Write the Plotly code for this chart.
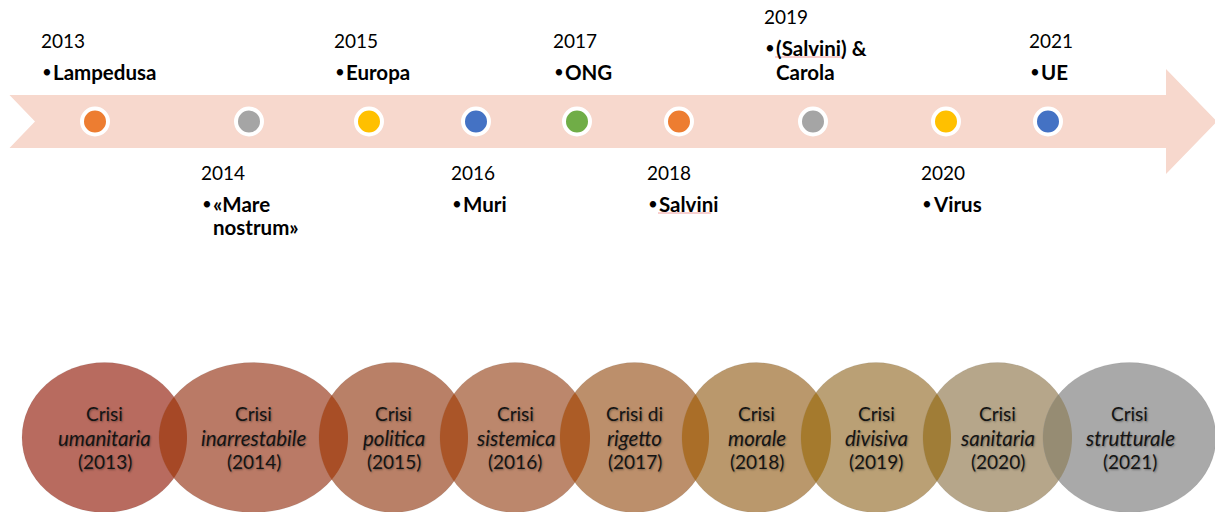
import numpy as np
import plotly.graph_objects as go

# ---------------- data ----------------
years = [2013, 2014, 2015, 2016, 2017, 2018, 2019, 2020, 2021]
events = ["Lampedusa", "«Mare\nnostrum»", "Europa", "Muri", "ONG",
          "Salvini", "(Salvini) &\nCarola", "Virus", "UE"]
dot_colors = ["#ED7D31", "#A5A5A5", "#FFC000", "#4472C4", "#70AD47",
              "#ED7D31", "#A5A5A5", "#FFC000", "#4472C4"]
crisis_prefix = ["Crisi", "Crisi", "Crisi", "Crisi", "Crisi di",
                 "Crisi", "Crisi", "Crisi", "Crisi"]
crisis_words = ["umanitaria", "inarrestabile", "politica", "sistemica", "rigetto",
                "morale", "divisiva", "sanitaria", "strutturale"]
underlined_words = ["Salvini", "(Salvini)"]

# ---------------- layout / style ----------------
W, H = 1215, 512
FONT = "Lato"
slot_x = [95, 249, 369, 476, 577, 679, 813, 946, 1048]      # timeline slots
label_x = [40, 200, 333, 450, 552, 646, 763, 920, 1028]     # text columns
band_color = "#F7D8CD"
ell_x0 = [22, 159, 319, 440, 560, 682, 801, 923, 1043]
ell_x1 = [187, 348, 468, 590, 709, 831, 951, 1072, 1216]
ell_y0, ell_y1 = 362.5, 512.5
circle_colors = ["#B86B5F", "#BA7A66", "#B98067", "#BC876C", "#BC8F6B",
                 "#BA986C", "#BAA075", "#B6A68A", "#A9A9A9"]
overlap_colors = ["#A64826", "#A84E26", "#AA5528", "#AC5C26", "#AA6E28",
                  "#A57A2D", "#A07D37", "#968C73"]

fig = go.Figure()
shapes = []
annotations = []

# arrow band
band_top, band_bot, band_mid = 95, 148, 121.5
head_x, head_top, head_bot, tip_x = 1166, 69, 174, 1217
band_path = (f"M 9.5,{band_top} L {head_x},{band_top} L {head_x},{head_top} "
             f"L {tip_x},{band_mid} L {head_x},{head_bot} L {head_x},{band_bot} "
             f"L 9.5,{band_bot} L 35,{band_mid} Z")
shapes.append(dict(type="path", path=band_path, fillcolor=band_color,
                   line=dict(width=0), layer="below", xref="x", yref="y"))

# bottom ellipses
for i in range(len(years)):
    shapes.append(dict(type="circle", xref="x", yref="y",
                       x0=ell_x0[i], x1=ell_x1[i], y0=ell_y0, y1=ell_y1,
                       fillcolor=circle_colors[i],
                       line=dict(color="rgba(0,0,0,0.06)", width=1),
                       layer="below"))

# overlap lenses between neighbouring ellipses
cy = (ell_y0 + ell_y1) / 2
b = (ell_y1 - ell_y0) / 2
for i in range(len(years) - 1):
    ca, aa = (ell_x0[i] + ell_x1[i]) / 2, (ell_x1[i] - ell_x0[i]) / 2
    cb, ab = (ell_x0[i + 1] + ell_x1[i + 1]) / 2, (ell_x1[i + 1] - ell_x0[i + 1]) / 2
    ta = np.linspace(-np.pi / 2, np.pi / 2, 361)
    xa, ya = ca + aa * np.cos(ta), cy + b * np.sin(ta)
    ina = ((xa - cb) / ab) ** 2 + ((ya - cy) / b) ** 2 <= 1
    tb = np.linspace(np.pi / 2, 3 * np.pi / 2, 361)
    xb, yb = cb + ab * np.cos(tb), cy + b * np.sin(tb)
    inb = ((xb - ca) / aa) ** 2 + ((yb - cy) / b) ** 2 <= 1
    px = np.concatenate([xa[ina], xb[inb]])
    py = np.concatenate([ya[ina], yb[inb]])
    path = "M " + " L ".join(f"{x:.2f},{y:.2f}" for x, y in zip(px, py)) + " Z"
    shapes.append(dict(type="path", path=path, xref="x", yref="y",
                       fillcolor=overlap_colors[i], line=dict(width=0),
                       layer="below"))

# crisis text in ellipses
shadow = "1px 1px 2px rgba(0,0,0,0.35)"
for i in range(len(years)):
    cx = (ell_x0[i] + ell_x1[i]) / 2
    lines = [(crisis_prefix[i], "normal", 19, 413),
             (crisis_words[i], "italic", 20.5, 437.5),
             (f"({years[i]})", "normal", 19, 461)]
    for txt, style, fs, yy in lines:
        annotations.append(dict(x=cx, y=yy, xref="x", yref="y", text=txt,
                                showarrow=False, xanchor="center", yanchor="middle",
                                font=dict(family=FONT, size=fs, color="#141414",
                                          style=style, shadow=shadow)))

# timeline dots
fig.add_trace(go.Scatter(
    x=slot_x, y=[band_mid] * len(slot_x), mode="markers",
    marker=dict(size=26, color=dot_colors, line=dict(color="white", width=4)),
    hoverinfo="skip", showlegend=False))

# year labels + events
for i, (yr, ev) in enumerate(zip(years, events)):
    lines = ev.split("\n")
    n = len(lines)
    if i % 2 == 0:
        line_y = [72 - 24 * (n - 1 - k) for k in range(n)]
        year_y = line_y[0] - 32
    else:
        year_y = 172
        line_y = [204 + 23 * k for k in range(n)]
    lx = label_x[i]
    annotations.append(dict(x=lx - 1, y=year_y, xref="x", yref="y", text=str(yr),
                            showarrow=False, xanchor="left", yanchor="middle",
                            font=dict(family=FONT, size=19, color="#000000")))
    annotations.append(dict(x=lx, y=line_y[0] - 1, xref="x", yref="y", text="•",
                            showarrow=False, xanchor="left", yanchor="middle",
                            font=dict(family=FONT, size=17, color="#000000")))
    for k, (ln, yy) in enumerate(zip(lines, line_y)):
        annotations.append(dict(x=lx + 10.5, y=yy, xref="x", yref="y", text=ln,
                                showarrow=False, xanchor="left", yanchor="middle",
                                font=dict(family=FONT, size=20.5, color="#000000",
                                          weight="bold")))
        first_word = ln.split(" ")[0]
        if first_word in underlined_words:
            wlen = 7.6 * len(first_word)
            shapes.append(dict(type="line", xref="x", yref="y",
                               x0=lx + 12, x1=lx + 12 + wlen, y0=yy + 9, y1=yy + 9,
                               line=dict(color="rgba(235,120,120,0.7)", width=1)))

fig.update_layout(
    width=W, height=H, margin=dict(l=0, r=0, t=0, b=0),
    paper_bgcolor="white", plot_bgcolor="white",
    xaxis=dict(range=[0, W], visible=False, fixedrange=True),
    yaxis=dict(range=[H, 0], visible=False, fixedrange=True),
    shapes=shapes, annotations=annotations, showlegend=False,
)
fig.write_html("out.html", config={"displayModeBar": False},
               post_script="document.body.style.margin='0';")
